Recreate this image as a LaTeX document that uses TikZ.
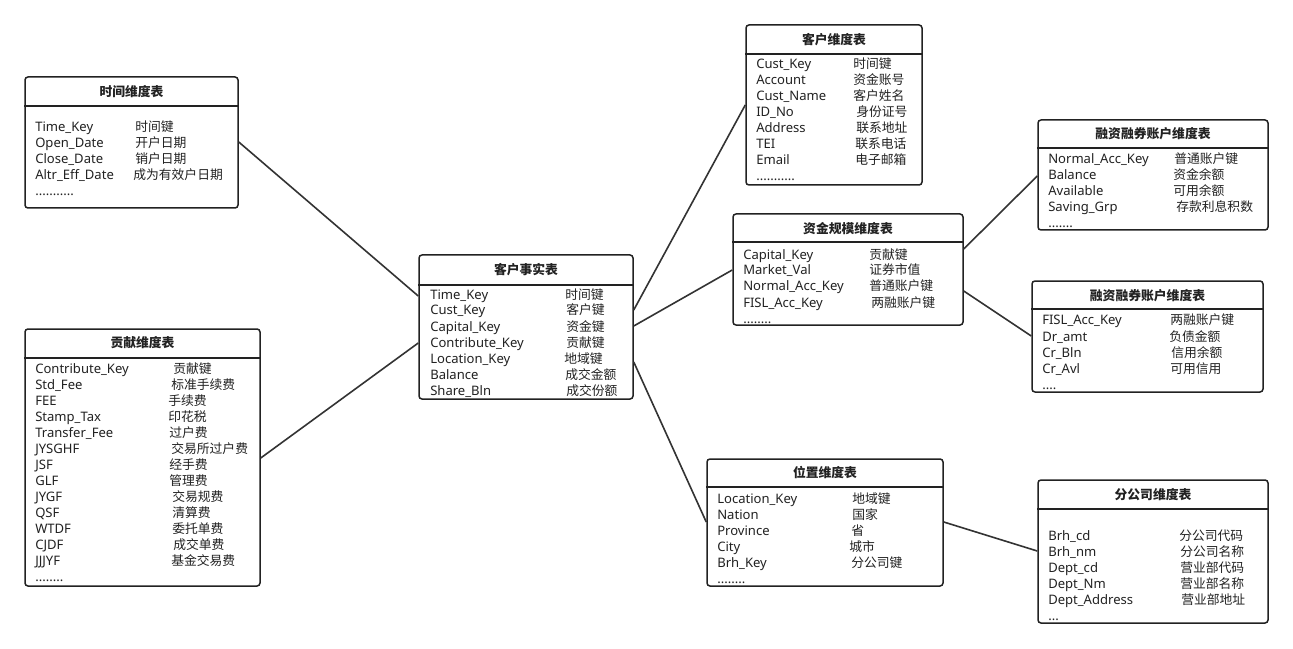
\documentclass[tikz,border=0pt]{standalone}
\usepackage{fontspec}
\setmainfont{Noto Sans}
\newfontfamily\cjk{Noto Sans CJK SC}
\usetikzlibrary{fit}
\definecolor{ink}{HTML}{222222}
\definecolor{wire}{HTML}{333333}
\tikzset{
  box/.style={draw=ink, line width=1.5*0.75pt, rounded corners=3*0.75pt, inner sep=0pt},
  sep/.style={draw=ink, line width=1.5*0.75pt},
  conn/.style={draw=wire, line width=1.6*0.75pt},
  lt/.style={anchor=base west, inner sep=0pt, yshift=-0.75pt, text=ink, font=\fontsize{9.8}{12}\selectfont},
  ct/.style={anchor=base west, inner sep=0pt, yshift=-0.75pt, text=ink, font=\cjk\fontsize{9.6}{12}\selectfont},
  ttl/.style={anchor=center, inner sep=0pt, text=ink, font=\cjk\bfseries\fontsize{9.6}{12}\selectfont}
}
\begin{document}
\begin{tikzpicture}[x=0.75pt,y=-0.75pt]
\useasboundingbox[fill=white] (0,0) rectangle (1293,649);

% ---------- 时间维度表 ----------
\node[box, fit={(25,77) (238,208)}] (time) {};
\draw[sep] (time.west |- 0,106) -- (time.east |- 0,106);
\node[ttl] (time-t) at (131.5,92) {时间维度表};
\foreach \a/\cx/\b [count=\i from 0] in {Time\_Key/135/时间键, Open\_Date/135/开户日期, Close\_Date/135/销户日期, Altr\_Eff\_Date/133/成为有效户日期}{
  \node[lt] (time-a\i) at (35,131+16*\i) {\a};
  \node[ct] (time-b\i) at (\cx,131+16*\i) {\b};
}
\node[lt] (time-m) at (35,195) {...........};

% ---------- 贡献维度表 ----------
\node[box, fit={(25,329) (260,586)}] (contr) {};
\draw[sep] (contr.west |- 0,358) -- (contr.east |- 0,358);
\node[ttl] (contr-t) at (142.5,343) {贡献维度表};
\foreach \a/\cx/\b [count=\i from 0] in {Contribute\_Key/173/贡献键, Std\_Fee/171/标准手续费, FEE/168/手续费, Stamp\_Tax/168/印花税, Transfer\_Fee/169/过户费, JYSGHF/171/交易所过户费, JSF/169/经手费, GLF/169/管理费, JYGF/172/交易规费, QSF/172/清算费, WTDF/172/委托单费, CJDF/173/成交单费, JJJYF/171/基金交易费}{
  \node[lt] (contr-a\i) at (35,372+16*\i) {\a};
  \node[ct] (contr-b\i) at (\cx,372+16*\i) {\b};
}
\node[lt] (contr-m) at (35,580) {........};

% ---------- 客户事实表 ----------
\node[box, fit={(419,255) (633,399)}] (fact) {};
\draw[sep] (fact.west |- 0,285) -- (fact.east |- 0,285);
\node[ttl] (fact-t) at (526,270) {客户事实表};
\foreach \a/\cx/\b [count=\i from 0] in {Time\_Key/565/时间键, Cust\_Key/566/客户键, Capital\_Key/566/资金键, Contribute\_Key/566/贡献键, Location\_Key/564/地域键, Balance/565/成交金额, Share\_Bln/566/成交份额}{
  \node[lt] (fact-a\i) at (430,298+16*\i) {\a};
  \node[ct] (fact-b\i) at (\cx,298+16*\i) {\b};
}

% ---------- 客户维度表 ----------
\node[box, fit={(746,25) (922,185)}] (cust) {};
\draw[sep] (cust.west |- 0,54) -- (cust.east |- 0,54);
\node[ttl] (cust-t) at (834,40) {客户维度表};
\foreach \a/\cx/\b [count=\i from 0] in {Cust\_Key/853/时间键, Account/853/资金账号, Cust\_Name/853/客户姓名, ID\_No/856/身份证号, Address/856/联系地址, TEI/855/联系电话, Email/855/电子邮箱}{
  \node[lt] (cust-a\i) at (756,68+16*\i) {\a};
  \node[ct] (cust-b\i) at (\cx,68+16*\i) {\b};
}
\node[lt] (cust-m) at (756,180) {...........};

% ---------- 资金规模维度表 ----------
\node[box, fit={(733,214) (963,325)}] (cap) {};
\draw[sep] (cap.west |- 0,242) -- (cap.east |- 0,242);
\node[ttl] (cap-t) at (848,229) {资金规模维度表};
\foreach \a/\cx/\b [count=\i from 0] in {Capital\_Key/869/贡献键, Market\_Val/869/证券市值, Normal\_Acc\_Key/869/普通账户键, FISL\_Acc\_Key/871/两融账户键}{
  \node[lt] (cap-a\i) at (743,258+16*\i) {\a};
  \node[ct] (cap-b\i) at (\cx,258+16*\i) {\b};
}
\node[lt] (cap-m) at (743,322) {........};

% ---------- 融资融券账户维度表 (普通) ----------
\node[box, fit={(1038,120) (1268,230)}] (norm) {};
\draw[sep] (norm.west |- 0,148) -- (norm.east |- 0,148);
\node[ttl] (norm-t) at (1153,134) {融资融券账户维度表};
\foreach \a/\cx/\b [count=\i from 0] in {Normal\_Acc\_Key/1174/普通账户键, Balance/1173/资金余额, Available/1173/可用余额, Saving\_Grp/1176/存款利息积数}{
  \node[lt] (norm-a\i) at (1048,163+16*\i) {\a};
  \node[ct] (norm-b\i) at (\cx,163+16*\i) {\b};
}
\node[lt] (norm-m) at (1048,227) {.......};

% ---------- 融资融券账户维度表 (两融) ----------
\node[box, fit={(1032,281) (1263,392)}] (fisl) {};
\draw[sep] (fisl.west |- 0,309) -- (fisl.east |- 0,309);
\node[ttl] (fisl-t) at (1147.5,296) {融资融券账户维度表};
\foreach \a/\cx/\b [count=\i from 0] in {FISL\_Acc\_Key/1170/两融账户键, Dr\_amt/1169/负债金额, Cr\_Bln/1171/信用余额, Cr\_Avl/1170/可用信用}{
  \node[lt] (fisl-a\i) at (1042,324+16*\i) {\a};
  \node[ct] (fisl-b\i) at (\cx,324+16*\i) {\b};
}
\node[lt] (fisl-m) at (1042,388) {....};

% ---------- 位置维度表 ----------
\node[box, fit={(707,459) (943,586)}] (loc) {};
\draw[sep] (loc.west |- 0,487) -- (loc.east |- 0,487);
\node[ttl] (loc-t) at (825,473) {位置维度表};
\foreach \a/\cx/\b [count=\i from 0] in {Location\_Key/852/地域键, Nation/852/国家, Province/851/省, City/849/城市, Brh\_Key/851/分公司键}{
  \node[lt] (loc-a\i) at (717,502+16*\i) {\a};
  \node[ct] (loc-b\i) at (\cx,502+16*\i) {\b};
}
\node[lt] (loc-m) at (717,582) {........};

% ---------- 分公司维度表 ----------
\node[box, fit={(1038,480) (1268,623)}] (brh) {};
\draw[sep] (brh.west |- 0,509) -- (brh.east |- 0,509);
\node[ttl] (brh-t) at (1153,495) {分公司维度表};
\foreach \a/\cx/\b [count=\i from 0] in {Brh\_cd/1179/分公司代码, Brh\_nm/1180/分公司名称, Dept\_cd/1180/营业部代码, Dept\_Nm/1180/营业部名称, Dept\_Address/1181/营业部地址}{
  \node[lt] (brh-a\i) at (1048,539+16*\i) {\a};
  \node[ct] (brh-b\i) at (\cx,539+16*\i) {\b};
}
\node[lt] (brh-m) at (1048,619) {...};

% ---------- connectors ----------
\draw[conn] (time.east |- 0,142) -- (fact.west |- 0,296);
\draw[conn] (contr.east |- 0,458) -- (fact.west |- 0,343);
\draw[conn] (fact.east |- 0,310) -- (cust.west |- 0,105);
\draw[conn] (fact.east |- 0,326) -- (cap.west |- 0,270);
\draw[conn] (fact.east |- 0,362) -- (loc.west |- 0,522);
\draw[conn] (cap.east |- 0,249) -- (norm.west |- 0,176);
\draw[conn] (cap.east |- 0,291) -- (fisl.west |- 0,336);
\draw[conn] (loc.east |- 0,522) -- (brh.west |- 0,551);
\end{tikzpicture}
\end{document}
